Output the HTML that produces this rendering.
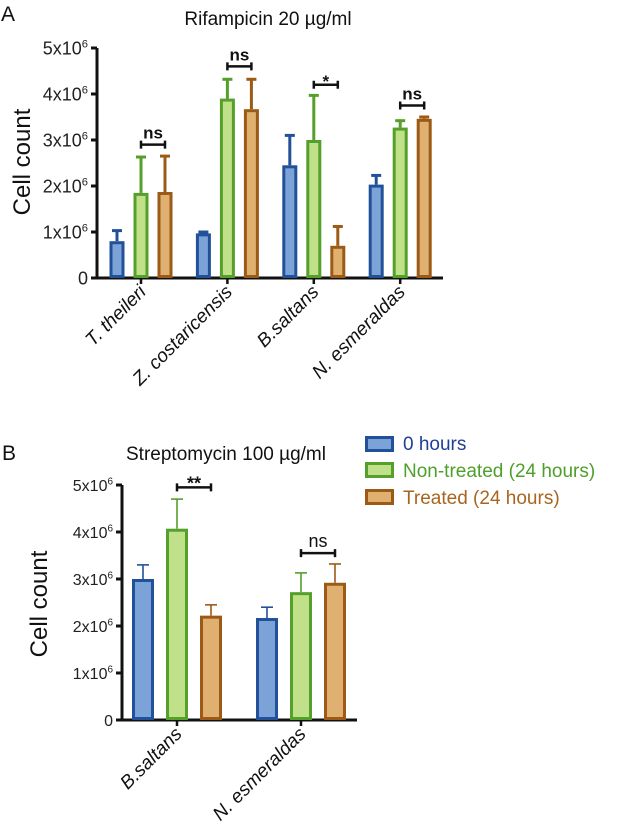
<!DOCTYPE html>
<html><head><meta charset="utf-8"><style>
body{margin:0;background:#fff;}
svg{display:block;font-family:"Liberation Sans",Arial,sans-serif;}
</style></head><body>
<svg id="fig" width="617" height="840" viewBox="0 0 617 840" xmlns="http://www.w3.org/2000/svg">
<text x="1" y="21" font-size="21" fill="#111">A</text>
<text x="268" y="25" font-size="19" text-anchor="middle" fill="#111">Rifampicin 20 µg/ml</text>
<text transform="translate(30,162) rotate(-90)" font-size="24" text-anchor="middle" fill="#111">Cell count</text>
<text x="2" y="460" font-size="21" fill="#111">B</text>
<text x="226" y="460" font-size="19" text-anchor="middle" fill="#111">Streptomycin 100 µg/ml</text>
<text transform="translate(47,604) rotate(-90)" font-size="24" text-anchor="middle" fill="#111">Cell count</text>
<g>
<rect x="366.5" y="437.5" width="26" height="13" fill="#7ba3d8" stroke="#22519a" stroke-width="3"/>
<text x="403" y="450" font-size="19" fill="#1f3f99">0 hours</text>
<rect x="366.5" y="463.5" width="26" height="13" fill="#c0e08a" stroke="#55a02a" stroke-width="3"/>
<text x="403" y="477" font-size="19" fill="#4ea02a">Non-treated (24 hours)</text>
<rect x="366.5" y="490.5" width="26" height="13" fill="#e0b070" stroke="#9c5a17" stroke-width="3"/>
<text x="403" y="504" font-size="19" fill="#a8651e">Treated (24 hours)</text>
</g>
</svg>
<script>
// Chart A data
const catsA = ["T. theileri","Z. costaricensis","B.saltans","N. esmeraldas"];
const zeroA = [0.8, 0.97, 2.45, 2.03];
const nonA = [1.85, 3.9, 3.0, 3.27];
const trtA = [1.87, 3.67, 0.7, 3.46];
const zeroAErr = [1.03, 1.0, 3.1, 2.23];
const nonAErr = [2.63, 4.32, 3.97, 3.42];
const trtAErr = [2.65, 4.32, 1.12, 3.5];
const sigA = ["ns","ns","*","ns"];
const sigAPos = [2.9, 4.6, 4.2, 3.75];
const ticksA = [0,1,2,3,4,5];
// Chart B data
const catsB = ["B.saltans","N. esmeraldas"];
const zeroB = [3.0, 2.17];
const nonB = [4.07, 2.72];
const trtB = [2.22, 2.92];
const zeroBErr = [3.3, 2.4];
const nonBErr = [4.7, 3.13];
const trtBErr = [2.45, 3.32];
const sigB = ["**","ns"];
const sigBPos = [4.95, 3.55];
const ticksB = [0,1,2,3,4,5];

const NS="http://www.w3.org/2000/svg";
const svg=document.getElementById('fig');
function mk(tag,attrs,parent){const e=document.createElementNS(NS,tag);for(const k in attrs)e.setAttribute(k,attrs[k]);(parent||svg).appendChild(e);return e;}
const colors=[["#7ba3d8","#22519a"],["#c0e08a","#55a02a"],["#e0b070","#9c5a17"]];
const snames=["zero-hours","non-treated","treated"];

function chart(cfg){
  const y=v=>cfg.y0-v*(cfg.y0-cfg.y5)/5;
  const g=mk('g',{});
  
  
  const ya=mk('line',{x1:cfg.ax,y1:cfg.y0+1.5,x2:cfg.ax,y2:y(5),stroke:'#111','stroke-width':3},g);
  
  
  const xa=mk('line',{x1:cfg.ax-1.5,y1:cfg.y0,x2:cfg.axEnd,y2:cfg.y0,stroke:'#111','stroke-width':3},g);
  
  
  cfg.ticks.forEach(t=>{
    const tl=mk('line',{x1:cfg.ax-6,y1:y(t),x2:cfg.ax,y2:y(t),stroke:'#111','stroke-width':3},g);
    
    
    const tx=mk('text',{x:cfg.ax-9,y:y(t)+cfg.fs*0.36,'font-size':cfg.fs,'text-anchor':'end',fill:'#222'},g);
    
    
    if(t===0){tx.textContent='0';}
    else{tx.textContent=t+'x10';const s=mk('tspan',{'font-size':cfg.fs*0.62,dy:-cfg.fs*0.4},tx);s.textContent='6';}
  });
  const series=[cfg.s0,cfg.s1,cfg.s2], errs=[cfg.e0,cfg.e1,cfg.e2];
  cfg.cats.forEach((c,i)=>{
    const cx=cfg.c0+i*cfg.step;
    const tk=mk('line',{x1:cx,y1:cfg.y0,x2:cx,y2:cfg.y0+6,stroke:'#111','stroke-width':2.5},g);
    
    
    const lb=mk('text',{transform:`translate(${cx+6},${cfg.y0+15}) rotate(-45)`,'font-size':cfg.lfs,'font-style':'italic','text-anchor':'end',fill:'#111'},g);
    
    
    lb.textContent=c;
    for(let s=0;s<3;s++){
      const bx=cx+(s-1)*cfg.gap-cfg.bw/2;
      const v=series[s][i], ev=errs[s][i];
      const el=mk('line',{x1:bx+cfg.bw/2,y1:y(v),x2:bx+cfg.bw/2,y2:y(ev),stroke:colors[s][1],'stroke-width':cfg.ew},g);
      
      
      const ec=mk('line',{x1:bx+cfg.bw/2-cfg.cap,y1:y(ev),x2:bx+cfg.bw/2+cfg.cap,y2:y(ev),stroke:colors[s][1],'stroke-width':cfg.ew},g);
      
      
      const r=mk('rect',{x:bx+1.5,y:y(v)+1.5,width:cfg.bw-3,height:Math.max(0,cfg.y0-y(v)-3),fill:colors[s][0],stroke:colors[s][1],'stroke-width':3},g);
      
      
    }
    const x1=cx, x2=cx+cfg.gap, by=y(cfg.sigPos[i]);
    const bl=mk('path',{d:`M${x1},${by-4}V${by+4}M${x1},${by}H${x2}M${x2},${by-4}V${by+4}`,stroke:'#111','stroke-width':2.5,fill:'none'},g);
    
    
    const st=mk('text',{x:(x1+x2)/2,y:by-6+(cfg.sig[i].includes('*')?8:0),'font-size':cfg.sfs,'font-weight':cfg.sig[i].includes('*')||cfg.boldNs?'bold':'normal','text-anchor':'middle',fill:'#111'},g);
    
    
    st.textContent=cfg.sig[i];
  });
}
chart({name:'chart-a',ax:97,axEnd:443,y0:278,y5:48,ticks:ticksA,fs:18,lfs:19,cats:catsA,c0:141,step:86.4,gap:24,bw:15,ew:3,cap:5,
  s0:zeroA,s1:nonA,s2:trtA,e0:zeroAErr,e1:nonAErr,e2:trtAErr,sig:sigA,sigPos:sigAPos,sfs:17,boldNs:true});
chart({name:'chart-b',ax:122,axEnd:357,y0:720,y5:485,ticks:ticksB,fs:16,lfs:19,cats:catsB,c0:177,step:124,gap:34,bw:22,ew:1.6,cap:6,
  s0:zeroB,s1:nonB,s2:trtB,e0:zeroBErr,e1:nonBErr,e2:trtBErr,sig:sigB,sigPos:sigBPos,sfs:18,boldNs:false});
</script>
</body></html>
